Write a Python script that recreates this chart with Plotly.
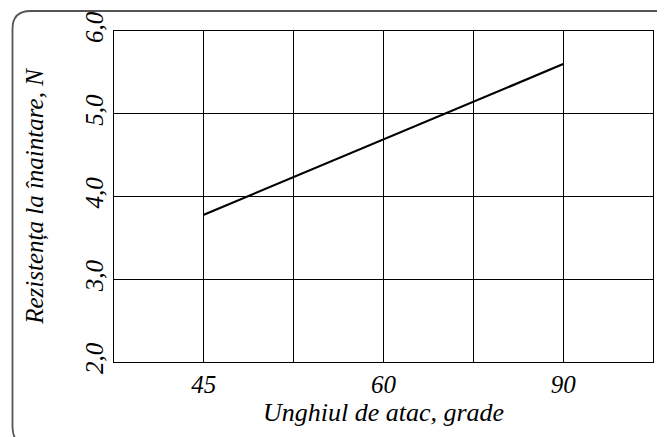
import plotly.graph_objects as go

# Data
x_tick_labels = ["", "45", "", "60", "", "90", ""]
angles = [45, 90]
resistance = [3.78, 5.60]
y_ticks = [2.0, 3.0, 4.0, 5.0, 6.0]

x_positions = list(range(len(x_tick_labels)))
x_line = [x_tick_labels.index(str(a)) for a in angles]

# page body has an 8px margin; figure is sized/offset to compensate
OFF = 8
W, H = 665 - OFF, 437 - OFF
L, R, T, B = 114 - OFF, 12, 31 - OFF, 75
pw, ph = W - L - R, H - T - B

def px(x):  # screen pixel -> paper
    return (x - OFF - L) / pw

def py(y):
    return (H - B - (y - OFF)) / ph

FONT = "Liberation Serif"

fig = go.Figure()
fig.add_trace(go.Scatter(x=x_line, y=resistance, mode="lines",
                         line=dict(color="black", width=2.2), showlegend=False,
                         hoverinfo="skip"))

# rounded frame around the whole figure
x0, x1, y0, y1, r = 12.5, 690, 11, 445, 18
path = (f"M {px(x0)},{py(y0 + r)} "
        f"Q {px(x0)},{py(y0)} {px(x0 + r)},{py(y0)} "
        f"L {px(x1)},{py(y0)} L {px(x1)},{py(y1)} "
        f"L {px(x0 + r)},{py(y1)} "
        f"Q {px(x0)},{py(y1)} {px(x0)},{py(y1 - r)} Z")
fig.add_shape(type="path", path=path, xref="paper", yref="paper",
              line=dict(color="#555555", width=1.8), layer="below")

fig.update_layout(
    width=W, height=H,
    margin=dict(l=L, r=R, t=T, b=B, autoexpand=False),
    paper_bgcolor="white", plot_bgcolor="white",
    separators=",.",
    font=dict(family=FONT, color="black"),
)
fig.update_xaxes(
    range=[0, 6], tickmode="array", tickvals=x_positions, ticktext=x_tick_labels,
    showgrid=True, gridcolor="black", gridwidth=1,
    showline=True, linecolor="black", linewidth=1.2, mirror=True,
    ticks="", zeroline=False,
    tickfont=dict(family=FONT, size=25, style="italic", color="black"),
    title=dict(text="Unghiul de atac, grade", standoff=0,
               font=dict(family=FONT, size=26, style="italic", color="black")),
)
fig.update_yaxes(
    range=[2, 6], tickmode="array", tickvals=y_ticks, tickformat=".1f",
    showgrid=True, gridcolor="black", gridwidth=1,
    showline=True, linecolor="black", linewidth=1.2, mirror=True,
    ticks="", zeroline=False, tickangle=-90,
    tickfont=dict(family=FONT, size=25, style="italic", color="black"),
    title=dict(text="Rezistența la înaintare, N", standoff=30,
               font=dict(family=FONT, size=25, style="italic", color="black")),
)

fig.write_html("out.html")
